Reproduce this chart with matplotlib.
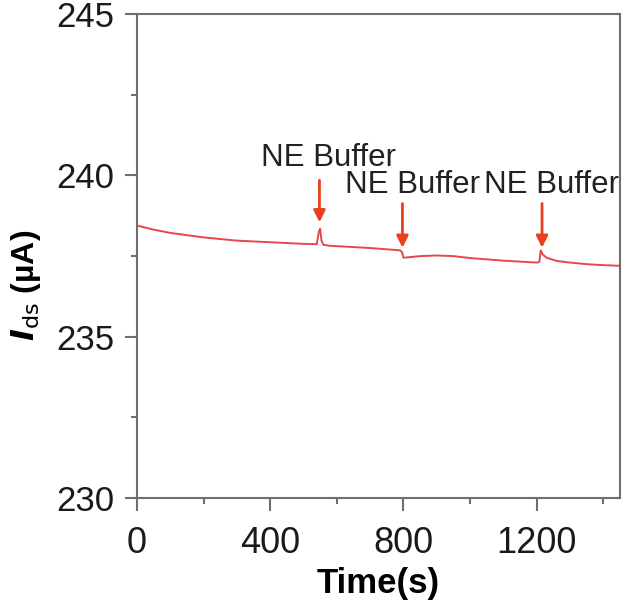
import matplotlib.pyplot as plt
from matplotlib.ticker import MultipleLocator

plt.rcParams['font.family'] = ['Liberation Sans', 'DejaVu Sans']

time_s = [0, 50, 100, 150, 200, 300, 400, 500, 540, 546, 550, 554, 560, 580, 650, 700,
          790, 796, 800, 850, 900, 950, 1000, 1100, 1200, 1208, 1212, 1218, 1230, 1260,
          1300, 1350, 1400, 1450]
ids_ua = [238.45, 238.32, 238.22, 238.15, 238.08, 237.98, 237.93, 237.88, 237.87, 238.25,
          238.35, 237.98, 237.85, 237.82, 237.78, 237.75, 237.68, 237.62, 237.45, 237.50,
          237.52, 237.50, 237.44, 237.36, 237.30, 237.32, 237.68, 237.55, 237.45, 237.35,
          237.30, 237.25, 237.22, 237.20]

events_t = [548, 797, 1216]
arrow_top = [239.85, 239.13, 239.13]
arrow_tip = [238.55, 237.76, 237.76]
label_x = [576, 827, 1243]
label_y = [240.3, 239.45, 239.45]
label_text = 'NE Buffer'

fig = plt.figure(figsize=(6.25, 6.12), dpi=100)
ax = fig.add_axes([0.219, 0.186, 0.773, 0.791])

ax.plot(time_s, ids_ua, color='#e8474a', lw=1.4)

for t, y0, y1, lx, ly in zip(events_t, arrow_top, arrow_tip, label_x, label_y):
    ax.annotate('', xy=(t, y1), xytext=(t, y0),
                arrowprops=dict(arrowstyle='-|>,head_length=0.7,head_width=0.35',
                                color='#e8401c', lw=2, shrinkA=0, shrinkB=0))
    ax.text(lx, ly, label_text, ha='center', va='baseline', fontsize=22.5,
            color='#222222', clip_on=False)

ax.set_xlim(0, 1450)
ax.set_ylim(230, 245)
ax.xaxis.set_major_locator(MultipleLocator(400))
ax.xaxis.set_minor_locator(MultipleLocator(200))
ax.yaxis.set_major_locator(MultipleLocator(5))
ax.yaxis.set_minor_locator(MultipleLocator(2.5))

for s in ax.spines.values():
    s.set_color('#6e6e6e')
    s.set_linewidth(1.5)

ax.tick_params(which='major', direction='out', length=9, width=1.5, color='#6e6e6e',
               labelsize=25, labelcolor='#1a1a1a', top=False, right=False)
ax.tick_params(axis='y', which='major', pad=7)
ax.tick_params(axis='x', which='major', labelsize=26, pad=11)
ax.tick_params(which='minor', direction='out', length=4, width=1.5, color='#6e6e6e',
               top=False, right=False)

ax.set_xlabel('Time(s)', fontsize=25, fontweight='bold', labelpad=4)
ax.set_ylabel(r'$\boldsymbol{I}_{\rm ds}$ (µA)', fontsize=23, fontweight='bold')
ax.yaxis.set_label_coords(-0.195, 0.44)

fig.savefig('out.png', dpi=100)
